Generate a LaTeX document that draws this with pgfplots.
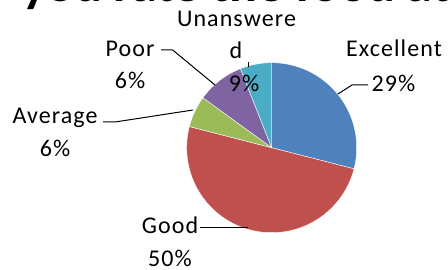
\documentclass[border=0pt]{standalone}
\usepackage{pgfplots}
\pgfplotsset{compat=1.18}
\usepackage{fontspec}
\setmainfont{Carlito}
\newfontfamily\labfont[LetterSpace=4.5]{Carlito}
\definecolor{cExc}{HTML}{4F81BD}
\definecolor{cGood}{HTML}{C0504D}
\definecolor{cAvg}{HTML}{9BBB59}
\definecolor{cPoor}{HTML}{8064A2}
\definecolor{cUna}{HTML}{4BACC6}
% slice sizes (percent) as drawn
\def\vExc{29}\def\vGood{50}\def\vAvg{6}\def\vPoor{9}\def\vUna{6}
\pgfmathsetmacro\aA{90}
\pgfmathsetmacro\aB{\aA-3.6*\vExc}
\pgfmathsetmacro\aC{\aB-3.6*\vGood}
\pgfmathsetmacro\aD{\aC-3.6*\vAvg}
\pgfmathsetmacro\aE{\aD-3.6*\vPoor}
\pgfmathsetmacro\aF{\aE-3.6*\vUna}
\def\cx{271.7}\def\cy{122.3}\def\rr{85}
\begin{document}
\begin{tikzpicture}
\begin{axis}[at={(0,0)},anchor=south west,
  scale only axis, width=448pt, height=270pt,
  xmin=0, xmax=448, ymin=0, ymax=270,
  hide axis, clip=false]
\addplot[fill=cExc, draw=white, line width=0.4pt, domain=\aA:\aB, samples=60, variable=\t]
  ({\cx+\rr*cos(\t)},{\cy+\rr*sin(\t)}) -- (axis cs:\cx,\cy) -- cycle;
\addplot[fill=cGood, draw=white, line width=0.4pt, domain=\aB:\aC, samples=90, variable=\t]
  ({\cx+\rr*cos(\t)},{\cy+\rr*sin(\t)}) -- (axis cs:\cx,\cy) -- cycle;
\addplot[fill=cAvg, draw=white, line width=0.4pt, domain=\aC:\aD, samples=20, variable=\t]
  ({\cx+\rr*cos(\t)},{\cy+\rr*sin(\t)}) -- (axis cs:\cx,\cy) -- cycle;
\addplot[fill=cPoor, draw=white, line width=0.4pt, domain=\aD:\aE, samples=20, variable=\t]
  ({\cx+\rr*cos(\t)},{\cy+\rr*sin(\t)}) -- (axis cs:\cx,\cy) -- cycle;
\addplot[fill=cUna, draw=white, line width=0.4pt, domain=\aE:\aF, samples=20, variable=\t]
  ({\cx+\rr*cos(\t)},{\cy+\rr*sin(\t)}) -- (axis cs:\cx,\cy) -- cycle;
% leader lines
\draw[black, line width=1pt] (axis cs:161,220) -- (axis cs:172.7,220) -- (axis cs:215,185);
\draw[black, line width=1pt] (axis cs:248,208) -- (axis cs:248,203);
\draw[black, line width=1pt] (axis cs:368,185) -- (axis cs:352,185) -- (axis cs:338,176);
\draw[black, line width=1pt] (axis cs:103,148) -- (axis cs:115,148) -- (axis cs:193,160);
\draw[black, line width=1pt] (axis cs:200,42) -- (axis cs:248,42);
% labels
\begin{scope}[every node/.style={font=\labfont\fontsize{24}{28}\selectfont, inner sep=0pt, anchor=base}]
\node at (axis cs:236.5,243) {Unanswere};
\node at (axis cs:236,211) {d};
\node at (axis cs:244,178.5) {9\%};
\node at (axis cs:130,213.3) {Poor};
\node at (axis cs:130,181.7) {6\%};
\node at (axis cs:394,213.3) {Excellent};
\node at (axis cs:393.5,178.3) {29\%};
\node at (axis cs:55,146.7) {Average};
\node at (axis cs:55,113.3) {6\%};
\node at (axis cs:170,36.7) {Good};
\node at (axis cs:170,3.3) {50\%};
\end{scope}
\node[font=\fontsize{52}{60}\selectfont\bfseries, inner sep=0pt, anchor=base west] at (axis cs:22,268) {you rate the food at the};
\end{axis}
\pgfresetboundingbox
\useasboundingbox (0,0) rectangle (448pt,270pt);
\end{tikzpicture}
\end{document}
